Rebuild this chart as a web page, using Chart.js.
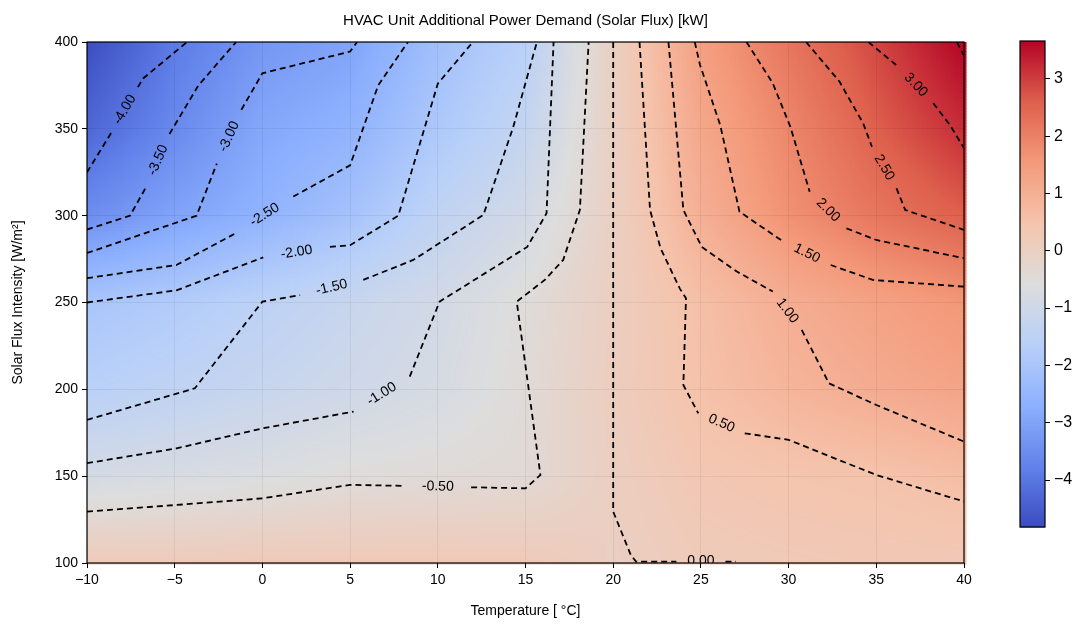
<!DOCTYPE html>
<html>
<head>
<meta charset="utf-8">
<script src="https://cdn.jsdelivr.net/npm/chart.js@4"></script>
<style>
  body { margin: 0; background: #fff; }
  #wrap { position: relative; width: 1090px; height: 626px; }
  #main { position: absolute; left: 0; top: 0; }
  #cbar { position: absolute; left: 1000px; top: 0; }
</style>
</head>
<body>
<div id="wrap">
  <canvas id="main" width="1090" height="626"></canvas>
  <canvas id="cbar" width="90" height="626"></canvas>
</div>
<script>
// grid of the field (kW), rows from S=400 down to S=100
const temps = [-10, -5, 0, 5, 10, 15, 20, 25, 30, 35, 40];
const fluxes = [400, 350, 300, 250, 200, 150, 100];
const demand = [
  [-4.80, -3.90, -3.30, -3.00, -2.20, -1.60, 0.00, 1.40, 2.20, 2.90, 3.66],
  [-4.30, -3.60, -2.90, -2.60, -1.90, -1.30, 0.00, 1.20, 1.90, 2.60, 3.20],
  [-3.50, -3.00, -2.60, -2.10, -1.40, -0.90, 0.00, 1.00, 1.70, 2.20, 2.60],
  [-2.00, -1.80, -1.50, -1.20, -0.90, -0.50, 0.05, 0.60, 1.05, 1.35, 1.60],
  [-1.60, -1.40, -1.20, -1.00, -0.80, -0.45, 0.10, 0.55, 0.85, 1.10, 1.30],
  [-0.85, -0.75, -0.65, -0.50, -0.45, -0.40, 0.05, 0.35, 0.45, 0.50, 0.65],
  [0.20, 0.20, 0.25, 0.25, 0.25, 0.25, 0.02, 0.20, 0.25, 0.30, 0.30]
];
const vmin = -4.82, vmax = 3.66;

// contour lines, [T, S]; null marks the label gap
const contourLevels = ['-4.00', '-3.50', '-3.00', '-2.50', '-2.00', '-1.50', '-1.00', '-0.50',
  '0.00', '0.50', '1.00', '1.50', '2.00', '2.50', '3.00', ''];
const contourPaths = [
  [[-10, 325], [-8.6, 348], null, [-7.1, 374], [-6.8, 379], [-4.3, 400]],
  [[-10, 292], [-7.55, 300], [-6.6, 317], null, [-5.3, 347], [-3.65, 375], [-1.5, 400]],
  [[-10, 278.5], [-3.75, 300], [-2.6, 330], null, [-1.2, 361], [0, 382], [5, 394.5], [5.4, 400]],
  [[-10, 264], [-4.9, 271.6], [-1.5, 290], null, [1.76, 311], [5, 329], [6.6, 375], [8.3, 400]],
  [[-10, 250], [-4.9, 257], [0.05, 276], null, [3.85, 282], [5, 283], [7.75, 300], [10, 376], [12, 400]],
  [[-10, 182.4], [-3.85, 200.6], [0, 250.5], [2.15, 254.3], null, [5.75, 263], [8.6, 274.5],
    [12.6, 300.4], [14.3, 351], [15.65, 400]],
  [[-10, 157.5], [-4.9, 166], [0.05, 177.6], [5.2, 187.2], null, [8.4, 207.3], [10.1, 250.5],
    [15.1, 282], [16.2, 301.4], [16.6, 400]],
  [[-10, 129.6], [-4.9, 133.4], [0.05, 137.3], [5, 145], [8.1, 144.4], null, [11.9, 143.6],
    [15, 143], [15.85, 150.7], [14.5, 250.5], [16.1, 263], [17.15, 274.5], [18.1, 303.3], [18.6, 400]],
  [[20, 400], [20, 129.6], [21, 104.7], [21.3, 100.8], [23.6, 100.8], null, [26.4, 100.8], [27, 100.8]],
  [[21.5, 400], [22.1, 303.3], [22.7, 281.2], [23.8, 258], [24.15, 252.4], [24, 202.5], [24.85, 186.2],
    null, [27.5, 174.7], [30, 170.9], [35, 150.7], [40, 135.4]],
  [[23.15, 400], [24, 303.3], [25.05, 282], [27.05, 267.8], [29.1, 256.3], null, [30.75, 234.2],
    [32.3, 203.5], [35, 191], [40, 169.9]],
  [[24.65, 400], [24.95, 386.8], [26.1, 352.2], [27.2, 302.3], [29.7, 285], null, [32.4, 271.6],
    [34.8, 263], [40, 259.1]],
  [[27.6, 400], [29.1, 376.2], [30.1, 351.2], [31.2, 313.8], null, [33.3, 292.7], [35, 286], [40, 275.5]],
  [[31, 400], [32.9, 377.2], [34.25, 353.2], [34.75, 339.7], null, [36.15, 315.8], [36.65, 303.3], [40, 291.8]],
  [[34.55, 400], [36.25, 385.8], null, [38.25, 364.7], [39.2, 352.2], [40, 338.8]],
  [[39.6, 400], [40, 392]]
];

const xTicks = [-10, -5, 0, 5, 10, 15, 20, 25, 30, 35, 40];
const yTicks = [100, 150, 200, 250, 300, 350, 400];
const cbTicks = [-4, -3, -2, -1, 0, 1, 2, 3];

const FONT = '"Liberation Sans", Arial, sans-serif';
const minus = v => String(v).replace('-', '\u2212');

// matplotlib coolwarm anchors
const cw = [[59, 76, 192], [98, 130, 234], [141, 176, 254], [184, 208, 249], [221, 221, 221],
  [245, 196, 173], [244, 154, 123], [222, 96, 77], [180, 4, 38]];
function coolwarm(t) {
  t = Math.max(0, Math.min(1, t)) * (cw.length - 1);
  const i = Math.min(cw.length - 2, Math.floor(t)), f = t - i;
  const c = cw[i].map((a, k) => Math.round(a + (cw[i + 1][k] - a) * f));
  return 'rgb(' + c.join(',') + ')';
}
function fieldAt(T, S) {
  let ci = (T - temps[0]) / 5, ri = (fluxes[0] - S) / 50;
  ci = Math.max(0, Math.min(temps.length - 1.0001, ci));
  ri = Math.max(0, Math.min(fluxes.length - 1.0001, ri));
  const c = Math.floor(ci), r = Math.floor(ri), fc = ci - c, fr = ri - r;
  const top = demand[r][c] * (1 - fc) + demand[r][c + 1] * fc;
  const bot = demand[r + 1][c] * (1 - fc) + demand[r + 1][c + 1] * fc;
  return top * (1 - fr) + bot * fr;
}

const heatmap = {
  id: 'heatmap',
  beforeDraw(chart) {
    const { ctx, chartArea: a, scales: { x, y } } = chart;
    const step = 3;
    for (let px = a.left; px < a.right; px += step) {
      for (let py = a.top; py < a.bottom; py += step) {
        const v = fieldAt(x.getValueForPixel(px + step / 2), y.getValueForPixel(py + step / 2));
        ctx.fillStyle = coolwarm((v - vmin) / (vmax - vmin));
        ctx.fillRect(px, py, step + 0.5, step + 0.5);
      }
    }
  },
  afterDatasetsDraw(chart) {
    const { ctx, chartArea: a, scales: { x, y } } = chart;
    ctx.save();
    ctx.beginPath();
    ctx.rect(a.left, a.top, a.right - a.left, a.bottom - a.top);
    ctx.clip();
    ctx.fillStyle = '#000';
    ctx.font = '14px ' + FONT;
    ctx.textAlign = 'center';
    ctx.textBaseline = 'middle';
    contourPaths.forEach((path, i) => {
      const g = path.indexOf(null);
      if (g < 0 || !contourLevels[i]) return;
      const p = path[g - 1], q = path[g + 1];
      const x1 = x.getPixelForValue(p[0]), y1 = y.getPixelForValue(p[1]);
      const x2 = x.getPixelForValue(q[0]), y2 = y.getPixelForValue(q[1]);
      let ang = Math.atan2(y2 - y1, x2 - x1);
      if (ang > Math.PI / 2) ang -= Math.PI;
      if (ang < -Math.PI / 2) ang += Math.PI;
      ctx.save();
      ctx.translate((x1 + x2) / 2, (y1 + y2) / 2);
      ctx.rotate(ang);
      ctx.fillText(contourLevels[i], 0, 0);
      ctx.restore();
    });
    ctx.restore();
    ctx.strokeStyle = '#000';
    ctx.lineWidth = 1.2;
    ctx.strokeRect(a.left, a.top, a.right - a.left, a.bottom - a.top);
  }
};

new Chart(document.getElementById('main'), {
  type: 'line',
  data: {
    datasets: contourPaths.map(path => ({
      data: path.map(p => p ? { x: p[0], y: p[1] } : { x: null, y: null }),
      borderColor: '#000',
      borderWidth: 1.8,
      borderDash: [6, 4],
      pointRadius: 0,
      fill: false,
      spanGaps: false
    }))
  },
  options: {
    responsive: false,
    animation: false,
    layout: { padding: { left: 0, right: 126, top: 0, bottom: 0 } },
    plugins: {
      legend: { display: false },
      tooltip: { enabled: false },
      title: {
        display: true,
        fullSize: false,
        text: 'HVAC Unit Additional Power Demand (Solar Flux) [kW]',
        color: '#000',
        font: { family: FONT, size: 15, weight: 'normal' },
        padding: { top: 12, bottom: 12 }
      }
    },
    scales: {
      x: {
        type: 'linear', min: -10, max: 40,
        afterBuildTicks: s => { s.ticks = xTicks.map(v => ({ value: v })); },
        afterFit: s => { s.height = 63; },
        ticks: { color: '#000', font: { family: FONT, size: 14 }, padding: 4, callback: minus, maxRotation: 0 },
        grid: { color: 'rgba(0,0,0,0.06)', tickColor: '#000', tickLength: 5 },
        border: { display: false },
        title: { display: true, text: 'Temperature [ \u00b0C]', color: '#000',
          font: { family: FONT, size: 14 }, padding: { top: 2, bottom: 6 } }
      },
      y: {
        type: 'linear', min: 100, max: 400,
        afterBuildTicks: s => { s.ticks = yTicks.map(v => ({ value: v })); },
        afterFit: s => { s.width = 87; },
        ticks: { color: '#000', font: { family: FONT, size: 14 }, padding: 4 },
        grid: { color: 'rgba(0,0,0,0.06)', tickColor: '#000', tickLength: 5 },
        border: { display: false },
        title: { display: true, text: 'Solar Flux Intensity [W/m\u00b2]', color: '#000',
          font: { family: FONT, size: 14 }, padding: { top: 10, bottom: 4 } }
      }
    }
  },
  plugins: [heatmap]
});

const colorbar = {
  id: 'colorbar',
  beforeDraw(chart) {
    const { ctx, chartArea: a, scales: { y } } = chart;
    for (let py = a.top; py < a.bottom; py++) {
      ctx.fillStyle = coolwarm((y.getValueForPixel(py + 0.5) - vmin) / (vmax - vmin));
      ctx.fillRect(a.left, py, a.right - a.left, 1.5);
    }
  },
  afterDraw(chart) {
    const { ctx, chartArea: a } = chart;
    ctx.strokeStyle = '#000';
    ctx.lineWidth = 1.2;
    ctx.strokeRect(a.left, a.top, a.right - a.left, a.bottom - a.top);
  }
};

new Chart(document.getElementById('cbar'), {
  type: 'scatter',
  data: { datasets: [{ data: [] }] },
  options: {
    responsive: false,
    animation: false,
    layout: { padding: { left: 20, right: 0, top: 41, bottom: 99 } },
    plugins: { legend: { display: false }, tooltip: { enabled: false } },
    scales: {
      x: { display: false },
      y: {
        position: 'right', min: vmin, max: vmax,
        afterBuildTicks: s => { s.ticks = cbTicks.map(v => ({ value: v })); },
        afterFit: s => { s.width = 45; },
        ticks: { color: '#000', font: { family: FONT, size: 16 }, padding: 4, callback: minus },
        grid: { drawOnChartArea: false, tickColor: '#000', tickLength: 5 },
        border: { display: false }
      }
    }
  },
  plugins: [colorbar]
});
</script>
</body>
</html>
